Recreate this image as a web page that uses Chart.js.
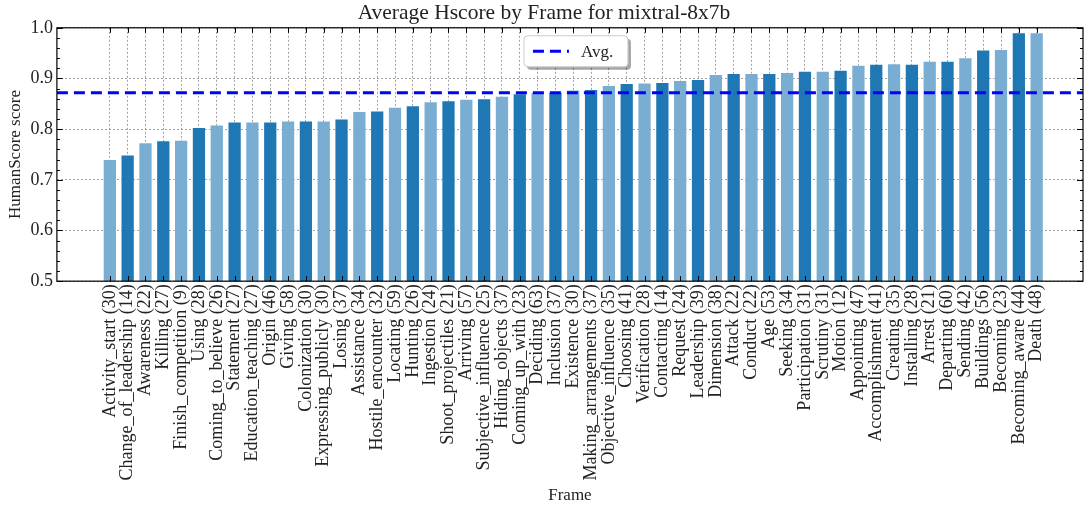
<!DOCTYPE html>
<html>
<head>
<meta charset="utf-8">
<script src="https://cdn.jsdelivr.net/npm/chart.js@4/dist/chart.umd.min.js"></script>
<style>
  html, body { margin: 0; padding: 0; background: #fff; }
  #wrap { width: 1092px; height: 507px; position: relative; }
</style>
</head>
<body>
<div id="wrap"><canvas id="chart"></canvas></div>
<script>
const frames = ['Activity_start', 'Change_of_leadership', 'Awareness', 'Killing', 'Finish_competition',
    'Using', 'Coming_to_believe', 'Statement', 'Education_teaching', 'Origin', 'Giving', 'Colonization',
    'Expressing_publicly', 'Losing', 'Assistance', 'Hostile_encounter', 'Locating', 'Hunting', 'Ingestion',
    'Shoot_projectiles', 'Arriving', 'Subjective_influence', 'Hiding_objects', 'Coming_up_with', 'Deciding',
    'Inclusion', 'Existence', 'Making_arrangements', 'Objective_influence', 'Choosing', 'Verification',
    'Contacting', 'Request', 'Leadership', 'Dimension', 'Attack', 'Conduct', 'Age', 'Seeking',
    'Participation', 'Scrutiny', 'Motion', 'Appointing', 'Accomplishment', 'Creating', 'Installing',
    'Arrest', 'Departing', 'Sending', 'Buildings', 'Becoming', 'Becoming_aware', 'Death']
const counts = [30, 14, 22, 27, 9, 28, 26, 27, 27, 46, 58, 30, 30, 37, 34, 32, 59, 26, 24, 21, 57, 25, 37,
    23, 63, 37, 30, 37, 35, 41, 28, 14, 24, 39, 38, 22, 22, 53, 34, 31, 31, 12, 47, 41, 35, 28, 21, 60,
    42, 56, 23, 44, 48]
const hscores = [0.741, 0.750, 0.774, 0.778, 0.779, 0.804, 0.809, 0.815, 0.815, 0.815, 0.817, 0.817,
    0.817, 0.821, 0.836, 0.837, 0.844, 0.847, 0.855, 0.857, 0.860, 0.861, 0.866, 0.871, 0.874, 0.874,
    0.878, 0.879, 0.887, 0.891, 0.892, 0.893, 0.897, 0.899, 0.909, 0.911, 0.911, 0.911, 0.913, 0.915,
    0.915, 0.917, 0.927, 0.929, 0.930, 0.929, 0.935, 0.935, 0.942, 0.957, 0.958, 0.991, 0.991]
const avgScore = 0.872
const yTicks = [0.5, 0.6, 0.7, 0.8, 0.9, 1.0]

const X_MIN = -2.97
const X_MAX = 54.6
const SERIF = "'Liberation Serif', 'DejaVu Serif', serif"
const DARK = '#1f77b4'
const LIGHT = '#79add2'

const tickLabels = frames.map((f, i) => `${f} (${counts[i]})`)

// inward ticks + full frame, matplotlib "science" style
const framePlugin = {
    id: 'frame',
    afterDraw(chart) {
        const { ctx, chartArea: a, scales } = chart
        ctx.save()
        ctx.strokeStyle = '#000'
        ctx.lineWidth = 1
        ctx.beginPath()
        for (let v = 0.5; v <= 1.0001; v += 0.02) {
            const y = Math.round(scales.y.getPixelForValue(v)) + 0.5
            const major = Math.abs(v * 10 - Math.round(v * 10)) < 1e-6
            const len = major ? 6 : 3
            ctx.moveTo(a.left, y); ctx.lineTo(a.left + len, y)
            ctx.moveTo(a.right, y); ctx.lineTo(a.right - len, y)
        }
        frames.forEach((_, i) => {
            const x = Math.round(scales.x.getPixelForValue(i)) + 0.5
            ctx.moveTo(x, a.bottom); ctx.lineTo(x, a.bottom - 5)
            ctx.moveTo(x, a.top); ctx.lineTo(x, a.top + 5)
        })
        ctx.stroke()
        ctx.lineWidth = 1.2
        ctx.strokeRect(a.left, a.top, a.right - a.left, a.bottom - a.top)

        // legend box
        const w = 104, h = 31
        const bx = (a.left + a.right) / 2 - w / 2 + 6
        const by = a.top + 8
        ctx.fillStyle = 'rgba(0,0,0,0.35)'
        ctx.beginPath()
        ctx.roundRect(bx + 3, by + 3, w, h, 4)
        ctx.fill()
        ctx.fillStyle = '#fff'
        ctx.strokeStyle = '#cccccc'
        ctx.lineWidth = 1
        ctx.beginPath()
        ctx.roundRect(bx, by, w, h, 4)
        ctx.fill()
        ctx.stroke()
        ctx.strokeStyle = '#0000ff'
        ctx.lineWidth = 3
        ctx.setLineDash([11, 6])
        ctx.beginPath()
        ctx.moveTo(bx + 9, by + h / 2)
        ctx.lineTo(bx + 45, by + h / 2)
        ctx.stroke()
        ctx.setLineDash([])
        ctx.fillStyle = '#222'
        ctx.font = `17px ${SERIF}`
        ctx.textBaseline = 'middle'
        ctx.fillText('Avg.', bx + 57, by + h / 2 + 1)
        ctx.restore()
    }
}

const data = {
    datasets: [
        {
            type: 'line',
            label: 'Avg.',
            data: [{ x: X_MIN, y: avgScore }, { x: X_MAX, y: avgScore }],
            borderColor: '#0000ff',
            borderWidth: 3,
            borderDash: [11, 6],
            pointRadius: 0,
            order: 0
        },
        {
            type: 'bar',
            label: 'Hscore',
            data: hscores.map((v, i) => ({ x: i, y: v })),
            backgroundColor: (c) => c.dataIndex % 2 ? DARK : LIGHT,
            borderColor: (c) => c.dataIndex % 2 ? 'rgba(255,255,255,0.15)' : 'rgba(255,255,255,0.45)',
            borderWidth: 1,
            barPercentage: 0.8,
            categoryPercentage: 1.0,
            order: 1
        }
    ]
}

const config = {
    type: 'bar',
    data: data,
    options: {
        responsive: true,
        maintainAspectRatio: false,
        animation: false,
        layout: { padding: { top: 0, right: 9, bottom: 1, left: 5 } },
        plugins: {
            legend: { display: false },
            tooltip: { enabled: false },
            title: {
                display: true,
                text: 'Average Hscore by Frame for mixtral-8x7b',
                color: '#222',
                font: { family: SERIF, size: 21.5, weight: 'normal' },
                padding: { top: 0, bottom: 2 }
            }
        },
        scales: {
            x: {
                type: 'linear',
                min: X_MIN,
                max: X_MAX,
                offset: false,
                afterBuildTicks: (scale) => {
                    scale.ticks = frames.map((_, i) => ({ value: i }))
                },
                ticks: {
                    autoSkip: false,
                    minRotation: 90,
                    maxRotation: 90,
                    padding: 3,
                    color: '#222',
                    font: { family: SERIF, size: 18 },
                    callback: (v) => tickLabels[v]
                },
                grid: {
                    color: '#8a8a8a',
                    lineWidth: 0.8,
                    drawTicks: false,
                    offset: false
                },
                border: { display: false, dash: [2, 2] },
                title: {
                    display: true,
                    text: 'Frame',
                    color: '#222',
                    font: { family: SERIF, size: 17 },
                    padding: { top: 2, bottom: 0 }
                }
            },
            y: {
                min: 0.5,
                max: 1.0,
                afterBuildTicks: (scale) => {
                    scale.ticks = yTicks.map(v => ({ value: v }))
                },
                ticks: {
                    padding: 4,
                    color: '#222',
                    font: { family: SERIF, size: 18 },
                    callback: (v) => v.toFixed(1)
                },
                grid: {
                    color: '#8a8a8a',
                    lineWidth: 0.8,
                    drawTicks: false
                },
                border: { display: false, dash: [2, 2] },
                title: {
                    display: true,
                    text: 'HumanScore score',
                    color: '#222',
                    font: { family: SERIF, size: 17 },
                    padding: { top: 0, bottom: 1 }
                }
            }
        }
    },
    plugins: [framePlugin]
}

new Chart(document.getElementById('chart'), config)
</script>
</body>
</html>
